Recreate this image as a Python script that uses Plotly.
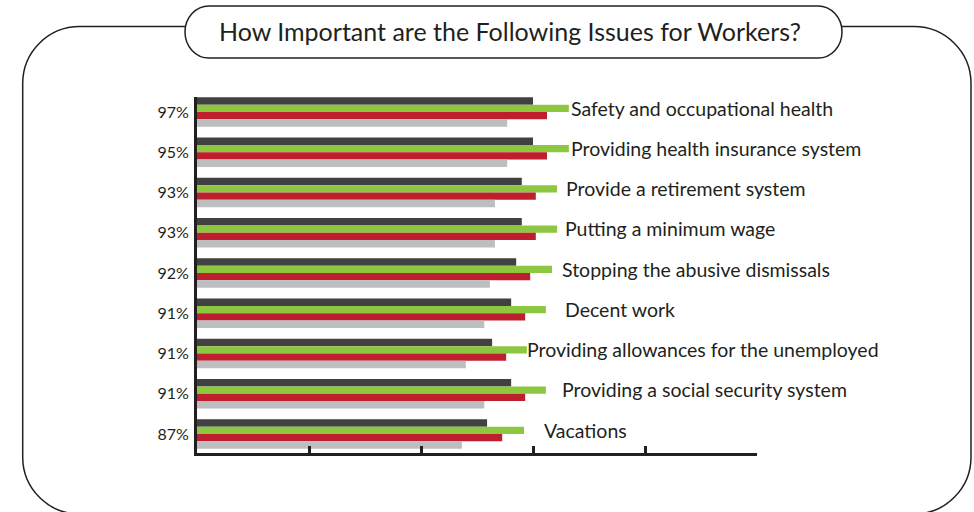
import plotly.graph_objects as go

# ---- data ----
issues = [
    "Safety and occupational health",
    "Providing health insurance system",
    "Provide a retirement system",
    "Putting a minimum wage",
    "Stopping the abusive dismissals",
    "Decent work",
    "Providing allowances for the unemployed",
    "Providing a social security system",
    "Vacations",
]
pct_labels = ["97%", "95%", "93%", "93%", "92%", "91%", "91%", "91%", "87%"]
dark_vals = [60.0, 60.0, 58.0, 58.0, 57.0, 56.1, 52.7, 56.1, 51.8]
green_vals = [66.4, 66.4, 64.3, 64.3, 63.4, 62.3, 58.9, 62.3, 58.4]
red_vals = [62.5, 62.5, 60.5, 60.5, 59.5, 58.6, 55.2, 58.6, 54.5]
gray_vals = [55.4, 55.4, 53.2, 53.2, 52.3, 51.3, 48.0, 51.3, 47.3]
x_ticks = [0, 20, 40, 60, 80, 100]

# ---- style ----
W, H = 974, 512
INK = "#231f20"
FONT = "Lato"
colors = {"dark": "#414042", "green": "#8dc63f", "red": "#be1e2d", "gray": "#bcbec0"}
label_gap_px = [0, 0, 7, 6, 8, 17, -2, 14, 18]


def px(x, y):
    return x / W, 1 - y / H


def P(x, y):
    a, b = px(x, y)
    return f"{a:.5f},{b:.5f}"


def rounded_path(x0, y0, x1, y1, rx, ry):
    k = 0.5523
    s = f"M {P(x0 + rx, y0)} L {P(x1 - rx, y0)} "
    s += f"C {P(x1 - rx + k * rx, y0)} {P(x1, y0 + ry - k * ry)} {P(x1, y0 + ry)} "
    s += f"L {P(x1, y1 - ry)} "
    s += f"C {P(x1, y1 - ry + k * ry)} {P(x1 - rx + k * rx, y1)} {P(x1 - rx, y1)} "
    s += f"L {P(x0 + rx, y1)} "
    s += f"C {P(x0 + rx - k * rx, y1)} {P(x0, y1 - ry + k * ry)} {P(x0, y1 - ry)} "
    s += f"L {P(x0, y0 + ry)} "
    s += f"C {P(x0, y0 + ry - k * ry)} {P(x0 + rx - k * rx, y0)} {P(x0 + rx, y0)} Z"
    return s


def frame_path(x0, y0, x1, y1, r, gap_l, gap_r):
    k = 0.5523
    s = f"M {P(gap_r, y0)} L {P(x1 - r, y0)} "
    s += f"C {P(x1 - r + k * r, y0)} {P(x1, y0 + r - k * r)} {P(x1, y0 + r)} "
    s += f"L {P(x1, y1 - r)} "
    s += f"C {P(x1, y1 - r + k * r)} {P(x1 - r + k * r, y1)} {P(x1 - r, y1)} "
    s += f"L {P(x0 + r, y1)} "
    s += f"C {P(x0 + r - k * r, y1)} {P(x0, y1 - r + k * r)} {P(x0, y1 - r)} "
    s += f"L {P(x0, y0 + r)} "
    s += f"C {P(x0, y0 + r - k * r)} {P(x0 + r - k * r, y0)} {P(x0 + r, y0)} "
    s += f"L {P(gap_l, y0)}"
    return s


fig = go.Figure()
for name, vals in [("dark", dark_vals), ("green", green_vals), ("red", red_vals), ("gray", gray_vals)]:
    fig.add_trace(go.Bar(
        y=issues, x=vals, orientation="h", name=name,
        marker=dict(color=colors[name], line=dict(width=0)),
        hoverinfo="skip",
    ))

for i, name in enumerate(issues):
    fig.add_annotation(
        x=green_vals[i], y=name, xref="x", yref="y",
        text=name, showarrow=False, xanchor="left", yanchor="middle",
        xshift=label_gap_px[i], yshift=4,
        font=dict(family=FONT, size=19.5, color=INK),
    )

# title
tx, ty = px(510, 31)
fig.add_annotation(
    x=tx, y=ty, xref="paper", yref="paper",
    text="How Important are the Following Issues for Workers?",
    showarrow=False, xanchor="center", yanchor="middle",
    font=dict(family=FONT, size=25, color=INK),
)

fig.add_shape(type="path", xref="paper", yref="paper",
              path=frame_path(22.7, 26.5, 971, 514, 57, 185, 842),
              line=dict(color=INK, width=1.5))
fig.add_shape(type="path", xref="paper", yref="paper",
              path=rounded_path(185, 6, 842, 58, 24, 26),
              line=dict(color=INK, width=1.5), fillcolor="white")

fig.update_layout(
    width=W, height=H,
    margin=dict(l=0, r=0, t=0, b=0),
    paper_bgcolor="white", plot_bgcolor="white",
    barmode="group", bargap=0.27, bargroupgap=0,
    showlegend=False,
    xaxis=dict(
        domain=[197 / W, 757 / W], range=[0, 100],
        tickvals=x_ticks, ticks="inside", ticklen=7, tickwidth=3, tickcolor=INK,
        showticklabels=False, showgrid=False, zeroline=False,
        showline=True, linewidth=3, linecolor=INK,
    ),
    yaxis=dict(
        domain=[(H - 453) / H, (H - 97) / H],
        range=[8.472, -0.373],
        categoryorder="array", categoryarray=issues,
        tickvals=issues, ticktext=pct_labels,
        ticks="", showgrid=False, zeroline=False,
        showline=True, linewidth=3, linecolor=INK,
        tickfont=dict(family=FONT, size=16, color=INK),
        ticklabelstandoff=2,
    ),
)

fig.write_html(
    "out.html",
    config={"displayModeBar": False},
    post_script="document.body.style.margin='0';document.body.style.overflow='hidden';",
)
